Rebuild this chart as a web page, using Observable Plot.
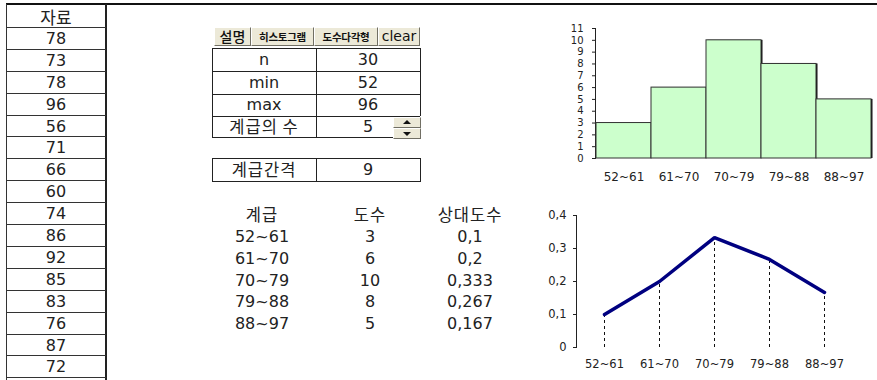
<!DOCTYPE html>
<html>
<head>
<meta charset="utf-8">
<script src="https://cdn.jsdelivr.net/npm/d3@7"></script>
<script src="https://cdn.jsdelivr.net/npm/@observablehq/plot@0.6"></script>
<style>
  html, body { margin: 0; padding: 0; background: #fff; }
  #sheet { position: relative; width: 877px; height: 380px; overflow: hidden;
           font-family: "DejaVu Sans", "Noto Sans CJK KR", sans-serif; color: #222; }
  .abs { position: absolute; box-sizing: border-box; }
  .cell { position: absolute; box-sizing: border-box; text-align: center; font-size: 16px; white-space: pre; }
  .kr { font-family: "Noto Sans CJK KR", sans-serif; }
  .btn { position: absolute; box-sizing: border-box; background: #ece9d8;
         border-top: 1px solid #fff; border-left: 1px solid #fff;
         border-right: 1px solid #716f64; border-bottom: 1px solid #716f64;
         text-align: center; color: #111; white-space: nowrap; }
  .chart { position: absolute; }
  #hist text { font-size: 12px; font-family: "DejaVu Sans", sans-serif; }
  #hist g[aria-label="y-axis tick label"] text { font-size: 10px; }
  #poly text { font-size: 11.5px; font-family: "DejaVu Sans", sans-serif; }
</style>
</head>
<body>
<div id="sheet"></div>
<script>
// Raw scores (visible part of the column)
const scores = [78, 73, 78, 96, 56, 71, 66, 60, 74, 86, 92, 85, 83, 76, 87, 72];
// Summary statistics
const statLabels = ["n", "min", "max", "계급의 수"];
const statValues = [30, 52, 96, 5];
const classWidth = 9;
// Frequency table
const classes = ["52~61", "61~70", "70~79", "79~88", "88~97"];
const counts = [3, 6, 10, 8, 5];
const relFreq = [0.1, 0.2, 0.333, 0.267, 0.167];
// Toolbar buttons
const buttons = ["설명", "히스토그램", "도수다각형", "clear"];
// Axis ticks
const countTicks = d3.range(0, 12);
const relTicks = [0, 0.1, 0.2, 0.3, 0.4];

const rows = classes.map((c, i) => ({cls: c, count: counts[i], rel: relFreq[i]}));
const comma = (v) => String(v).replace(".", ",");

const sheet = document.getElementById("sheet");
function el(cls, css, text) {
  const d = document.createElement("div");
  d.className = cls;
  Object.assign(d.style, css);
  if (text != null) d.textContent = text;
  sheet.appendChild(d);
  return d;
}

// ---- top rule
el("abs", {left: "6px", top: "3px", width: "871px", height: "2px", background: "#111"});

// ---- data column
const rowH = 21.9, top0 = 5;
el("abs", {left: "6px", top: "4px", width: "1px", height: "376px", background: "#333"});
el("abs", {left: "105px", top: "4px", width: "2px", height: "376px", background: "#222"});
["자료", ...scores].forEach((v, k) => {
  const y = top0 + rowH * k;
  if (k > 0) el("abs", {left: "6px", top: y + "px", width: "100px", height: "1px", background: "#333"});
  el("cell" + (k === 0 ? " kr" : ""), {left: "6px", top: (y + 1) + "px", width: "100px",
     height: rowH + "px", lineHeight: (rowH) + "px", fontSize: k === 0 ? "17px" : "16px"}, String(v));
});
el("abs", {left: "6px", top: (top0 + rowH * 17) + "px", width: "100px", height: "1px", background: "#333"});

// ---- toolbar
const btnBox = [[214, 37], [251, 63], [314, 64], [378, 42]];
buttons.forEach((b, i) => {
  const [x, w] = btnBox[i];
  const small = i === 1 || i === 2;
  el("btn" + (i < 3 ? " kr" : ""), {left: x + "px", top: "27px", width: w + "px", height: "19px",
     lineHeight: "17px", fontSize: small ? "10.5px" : "14px",
     fontWeight: small ? "700" : (i === 0 ? "500" : "400"), letterSpacing: small ? "-0.3px" : "0",
     fontFamily: i === 3 ? "'DejaVu Sans', sans-serif" : null}, b);
});

// ---- statistics table
const sx = 212, sDiv = 316, sRight = 420;
const sRows = [48, 71, 94, 116, 137];
el("abs", {left: sx + "px", top: sRows[0] + "px", width: (sRight - sx) + "px", height: "1px", background: "#222"});
for (let i = 0; i < 4; i++) {
  const y0 = sRows[i], y1 = sRows[i + 1];
  const right = i === 3 ? 393 : sRight;
  el("abs", {left: sx + "px", top: y1 + "px", width: (right - sx) + "px", height: "1px", background: "#222"});
  el("cell" + (i === 3 ? " kr" : ""), {left: sx + "px", top: y0 + "px", width: (sDiv - sx) + "px",
     height: (y1 - y0) + "px", lineHeight: (y1 - y0) + "px", fontSize: i === 3 ? "16.5px" : "16px",
     letterSpacing: i === 3 ? "1px" : "0"}, statLabels[i]);
  el("cell", {left: sDiv + "px", top: y0 + "px", width: (sRight - sDiv) + "px",
     height: (y1 - y0) + "px", lineHeight: (y1 - y0) + "px"}, String(statValues[i]));
}
el("abs", {left: sx + "px", top: sRows[0] + "px", width: "1px", height: (sRows[4] - sRows[0] + 1) + "px", background: "#222"});
el("abs", {left: sDiv + "px", top: sRows[0] + "px", width: "1px", height: (sRows[4] - sRows[0] + 1) + "px", background: "#222"});
el("abs", {left: sRight + "px", top: sRows[0] + "px", width: "1px", height: (sRows[3] - sRows[0]) + "px", background: "#222"});
// spinner
el("btn", {left: "393px", top: "117px", width: "28px", height: "11px"});
el("btn", {left: "393px", top: "128px", width: "28px", height: "11px"});
el("abs", {left: "403px", top: "120px", width: "0", height: "0", borderLeft: "4px solid transparent",
   borderRight: "4px solid transparent", borderBottom: "4px solid #111"});
el("abs", {left: "403px", top: "132px", width: "0", height: "0", borderLeft: "4px solid transparent",
   borderRight: "4px solid transparent", borderTop: "4px solid #111"});

// ---- class width box
const cTop = 158, cBot = 181;
el("abs", {left: sx + "px", top: cTop + "px", width: (sRight - sx + 1) + "px", height: (cBot - cTop + 1) + "px",
   border: "1px solid #222"});
el("abs", {left: sDiv + "px", top: cTop + "px", width: "1px", height: (cBot - cTop) + "px", background: "#222"});
el("cell kr", {left: sx + "px", top: cTop + "px", width: (sDiv - sx) + "px", height: (cBot - cTop) + "px",
   lineHeight: (cBot - cTop) + "px", fontSize: "16.5px", letterSpacing: "1px"}, "계급간격");
el("cell", {left: sDiv + "px", top: cTop + "px", width: (sRight - sDiv) + "px", height: (cBot - cTop) + "px",
   lineHeight: (cBot - cTop) + "px"}, String(classWidth));

// ---- frequency table (no borders)
const colX = [262, 370, 470];
const rowY = [214, 237, 259, 281, 302, 324];
["계급", "도수", "상대도수"].forEach((h, j) => {
  el("cell kr", {left: (colX[j] - 50) + "px", top: (rowY[0] - 11) + "px", width: "100px",
     height: "22px", lineHeight: "22px", fontSize: "16.5px", letterSpacing: "1px"}, h);
});
rows.forEach((r, i) => {
  const vals = [r.cls, String(r.count), comma(r.rel)];
  vals.forEach((v, j) => {
    el("cell", {left: (colX[j] - 50) + "px", top: (rowY[i + 1] - 11) + "px", width: "100px",
       height: "22px", lineHeight: "22px"}, v);
  });
});

// ---- histogram
const hist = Plot.plot({
  width: 327, height: 180,
  marginLeft: 45, marginRight: 6, marginTop: 13, marginBottom: 37,
  style: {color: "#222", background: "transparent"},
  x: {type: "band", domain: classes, padding: 0, label: null, tickSize: 0, tickPadding: 14},
  y: {domain: [0, 11], ticks: countTicks, label: null, tickSize: 3, tickPadding: 9, line: true},
  marks: [
    Plot.barY(rows, {x: "cls", y: "count", fill: "#111", dx: 1.5}),
    Plot.barY(rows, {x: "cls", y: "count", fill: "#ccffcc", stroke: "#333", strokeWidth: 1})
  ]
});
hist.id = "hist";
hist.classList.add("chart");
Object.assign(hist.style, {left: "550px", top: "15px"});
sheet.appendChild(hist);

// ---- frequency polygon
const poly = Plot.plot({
  width: 337, height: 180,
  marginLeft: 36, marginRight: 24.5, marginTop: 15, marginBottom: 33,
  style: {color: "#222", background: "transparent"},
  x: {type: "point", domain: classes, padding: 0.5, label: null, tickSize: 0, tickPadding: 12},
  y: {domain: [0, 0.4], ticks: relTicks, label: null, tickSize: 3, tickPadding: 7, line: true,
      tickFormat: (d) => d === 0 ? "0" : d3.format(".1f")(d).replace(".", ",")},
  marks: [
    Plot.ruleX(rows, {x: "cls", y1: 0, y2: "rel", stroke: "#111", strokeDasharray: "3,3"}),
    Plot.line(rows, {x: "cls", y: "rel", stroke: "#000080", strokeWidth: 3.5, strokeLinejoin: "miter"})
  ]
});
poly.id = "poly";
poly.classList.add("chart");
Object.assign(poly.style, {left: "540px", top: "200px"});
sheet.appendChild(poly);
</script>
</body>
</html>
